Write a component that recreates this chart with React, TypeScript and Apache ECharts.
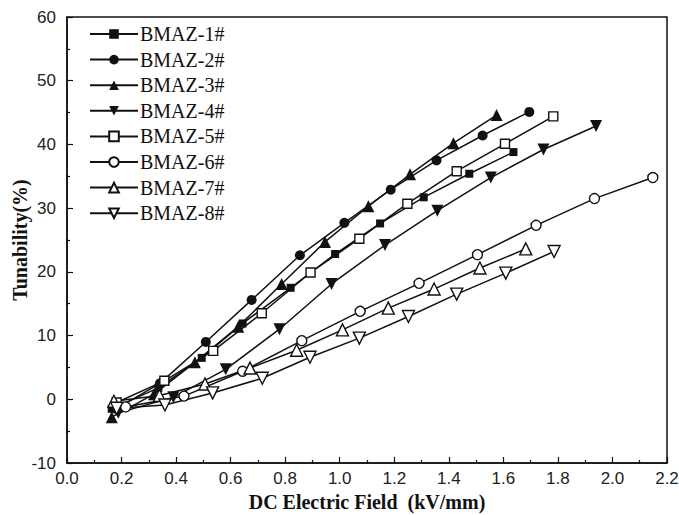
import React, { useEffect, useRef } from "react";
import * as echarts from "echarts";

const seriesNames = ["BMAZ-1#", "BMAZ-2#", "BMAZ-3#", "BMAZ-4#", "BMAZ-5#", "BMAZ-6#", "BMAZ-7#", "BMAZ-8#"];

const x1 = [0.164, 0.335, 0.494, 0.644, 0.82, 0.983, 1.148, 1.308, 1.475, 1.637];
const y1 = [-1.5, 1.8, 6.5, 11.9, 17.5, 22.8, 27.6, 31.7, 35.4, 38.8];
const x2 = [0.18, 0.341, 0.509, 0.677, 0.854, 1.017, 1.187, 1.355, 1.524, 1.695];
const y2 = [-1.5, 2.5, 9.0, 15.6, 22.6, 27.7, 32.9, 37.5, 41.4, 45.1];
const x3 = [0.164, 0.319, 0.469, 0.628, 0.787, 0.946, 1.105, 1.258, 1.417, 1.575];
const y3 = [-2.8, 0.8, 5.8, 11.4, 18.1, 24.7, 30.3, 35.3, 40.2, 44.6];
const x4 = [0.188, 0.39, 0.582, 0.779, 0.97, 1.166, 1.358, 1.554, 1.747, 1.94];
const y4 = [-2.1, 0.3, 4.7, 11.0, 18.1, 24.2, 29.6, 34.8, 39.2, 42.9];
const x5 = [0.182, 0.357, 0.536, 0.714, 0.893, 1.072, 1.248, 1.429, 1.606, 1.783];
const y5 = [-0.5, 2.9, 7.6, 13.5, 19.9, 25.2, 30.7, 35.8, 40.1, 44.4];
const x6 = [0.215, 0.429, 0.644, 0.861, 1.075, 1.291, 1.505, 1.72, 1.934, 2.148];
const y6 = [-1.2, 0.5, 4.4, 9.2, 13.8, 18.2, 22.7, 27.3, 31.5, 34.8];
const x7 = [0.172, 0.339, 0.506, 0.671, 0.842, 1.01, 1.178, 1.346, 1.514, 1.682];
const y7 = [-0.3, 0.6, 2.4, 4.9, 7.7, 10.9, 14.3, 17.3, 20.6, 23.6];
const x8 = [0.182, 0.359, 0.534, 0.716, 0.891, 1.072, 1.252, 1.429, 1.609, 1.786];
const y8 = [-1.4, -0.9, 1.0, 3.3, 6.6, 9.6, 13.0, 16.5, 19.8, 23.2];

const xs = [x1, x2, x3, x4, x5, x6, x7, x8];
const ys = [y1, y2, y3, y4, y5, y6, y7, y8];

const TRI_DOWN = "path://M0,0 L10,0 L5,9 Z";
const TRI_UP = "path://M5,0 L10,9 L0,9 Z";
const symbols = ["rect", "circle", TRI_UP, TRI_DOWN, "rect", "circle", TRI_UP, TRI_DOWN];
const filled = [true, true, true, true, false, false, false, false];
const sizes = [8, 10, 12, 12, 9, 10, 12, 12];

export default function App() {
  const ref = useRef<HTMLDivElement>(null);
  useEffect(() => {
    if (!ref.current) return;
    const chart = echarts.init(ref.current, null, { renderer: "svg" });
    const serif = "'Liberation Serif', 'Times New Roman', serif";
    const sans = "'Liberation Sans', Arial, sans-serif";
    chart.setOption({
      animation: false,
      backgroundColor: "#fff",
      grid: {
        left: 67,
        right: 12,
        top: 17,
        bottom: 52,
        show: true,
        containLabel: false,
        outerBoundsMode: "none",
        borderColor: "#111",
        borderWidth: 1.5,
        backgroundColor: "transparent",
      },
      legend: {
        orient: "vertical",
        left: 84,
        top: 19,
        itemWidth: 48,
        itemHeight: 12,
        itemGap: 5.6,
        textStyle: { fontFamily: serif, fontSize: 20, color: "#111", lineHeight: 20, padding: [0, 0, 0, -3] },
        data: seriesNames,
      },
      xAxis: {
        type: "value",
        min: 0,
        max: 2.2,
        interval: 0.2,
        name: "DC Electric Field  (kV/mm)",
        nameLocation: "middle",
        nameGap: 26,
        nameTextStyle: { fontFamily: serif, fontSize: 20, fontWeight: "bold", color: "#111" },
        axisLine: { show: true, onZero: false, lineStyle: { color: "#111", width: 1.5 } },
        axisTick: { show: true, inside: true, length: 6, lineStyle: { color: "#111", width: 1.2 } },
        minorTick: { show: true, splitNumber: 2, length: 3, lineStyle: { color: "#111", width: 1.2 } },
        axisLabel: { fontFamily: sans, fontSize: 17, color: "#222", margin: 7, formatter: (v: number) => v.toFixed(1) },
        splitLine: { show: false },
      },
      yAxis: {
        type: "value",
        min: -10,
        max: 60,
        interval: 10,
        name: "Tunability(%)",
        nameLocation: "middle",
        nameGap: 37,
        nameMoveOverlap: false,
        nameTextStyle: { fontFamily: serif, fontSize: 20, fontWeight: "bold", color: "#111" },
        axisLine: { show: true, onZero: false, lineStyle: { color: "#111", width: 1.5 } },
        axisTick: { show: true, inside: true, length: 6, lineStyle: { color: "#111", width: 1.2 } },
        minorTick: { show: true, splitNumber: 2, length: 3, lineStyle: { color: "#111", width: 1.2 } },
        axisLabel: { fontFamily: sans, fontSize: 17, color: "#222", margin: 11 },
        splitLine: { show: false },
      },
      series: seriesNames.map((name, i) => ({
        name,
        type: "line",
        data: xs[i].map((x, j) => [x, ys[i][j]]),
        symbol: symbols[i],
        symbolSize: sizes[i],
        showSymbol: true,
        lineStyle: { color: "#111", width: 1.5 },
        itemStyle: {
          color: filled[i] ? "#111" : "#fff",
          borderColor: "#111",
          borderWidth: filled[i] ? 0 : 1.4,
          opacity: 1,
        },
        z: 2,
      })),
    });
    return () => chart.dispose();
  }, []);
  return <div ref={ref} style={{ width: 679, height: 515, position: "absolute", left: 0, top: 0 }} />;
}
